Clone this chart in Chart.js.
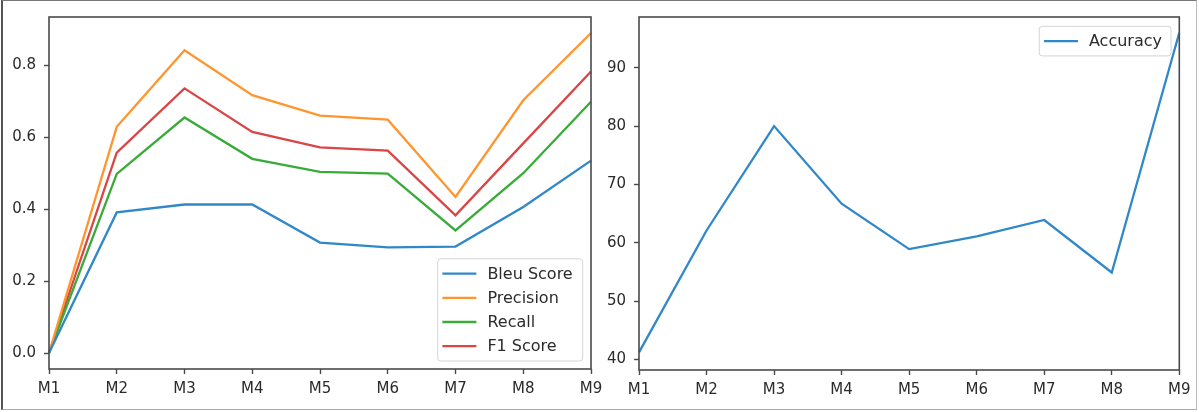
<!DOCTYPE html>
<html>
<head>
<meta charset="utf-8">
<script src="https://cdn.jsdelivr.net/npm/chart.js@4.4.1/dist/chart.umd.min.js"></script>
<style>
  html, body { margin: 0; padding: 0; background: #fff; }
  #page { position: relative; width: 1199px; height: 412px; overflow: hidden; background: #fff; }
  canvas { position: absolute; top: 0; }
  #left { left: 0; }
  #right { left: 605px; }
  #frame {
    position: absolute; left: 1px; top: 0; width: 1193px; height: 408px;
    border-left: 2px solid #555; border-top: 1px solid #777;
    border-right: 1px solid #bbb; border-bottom: 1px solid #aaa;
    pointer-events: none;
  }
</style>
</head>
<body>
<div id="page">
  <canvas id="left" width="625" height="412"></canvas>
  <canvas id="right" width="594" height="412"></canvas>
  <div id="frame"></div>
</div>
<script>
// Model labels along the x axis
const models = ['M1', 'M2', 'M3', 'M4', 'M5', 'M6', 'M7', 'M8', 'M9'];

// Text-generation metrics per model
const bleuScore = [0.0, 0.391, 0.413, 0.413, 0.307, 0.294, 0.296, 0.406, 0.535];
const precision = [0.0, 0.629, 0.842, 0.717, 0.660, 0.649, 0.434, 0.703, 0.890];
const recall    = [0.0, 0.498, 0.655, 0.540, 0.504, 0.499, 0.341, 0.500, 0.699];
const f1Score   = [0.0, 0.557, 0.736, 0.615, 0.572, 0.563, 0.383, 0.583, 0.783];

// Classification accuracy per model (%)
const accuracy = [41.2, 62.1, 80.0, 66.7, 58.9, 61.1, 63.9, 54.9, 96.0];

// Tick values for the two y axes
const metricTicks = [0.0, 0.2, 0.4, 0.6, 0.8];
const accuracyTicks = [40, 50, 60, 70, 80, 90];

const FONT = "'DejaVu Sans', sans-serif";
const TEXT = '#2b2b2b';
const AXIS = '#4a4a4a';
const COLORS = { blue: '#3088c8', orange: '#ff952e', green: '#38ab38', red: '#da4546' };

// Draws the boxed plot frame and a matplotlib-style legend inside the plot area
const frameLegend = {
  id: 'frameLegend',
  afterDraw(chart, args, opts) {
    const ctx = chart.ctx;
    const a = chart.chartArea;
    ctx.save();
    ctx.strokeStyle = AXIS;
    ctx.lineWidth = 1.6;
    ctx.strokeRect(a.left, a.top, a.right - a.left, a.bottom - a.top);

    const sets = chart.data.datasets;
    ctx.font = '16px ' + FONT;
    const textW = Math.max(...sets.map(d => ctx.measureText(d.label).width));
    const rowGap = 24.2, edge = 14.8;
    const w = 4.7 + 34 + 11 + textW + opts.padRight;
    const h = edge * 2 + (sets.length - 1) * rowGap;
    const x = a.right - 8.3 - w;
    const y = opts.corner === 'top' ? a.top + 9.3 : a.bottom - 8 - h;

    ctx.beginPath();
    ctx.roundRect(x, y, w, h, 3);
    ctx.fillStyle = 'rgba(255,255,255,0.85)';
    ctx.fill();
    ctx.strokeStyle = '#d4d4d4';
    ctx.lineWidth = 1;
    ctx.stroke();

    sets.forEach((d, i) => {
      const cy = y + edge + i * rowGap;
      ctx.beginPath();
      ctx.moveTo(x + 4.7, cy);
      ctx.lineTo(x + 38.7, cy);
      ctx.strokeStyle = d.borderColor;
      ctx.lineWidth = 2.3;
      ctx.stroke();
      ctx.fillStyle = TEXT;
      ctx.textBaseline = 'middle';
      ctx.textAlign = 'left';
      ctx.fillText(d.label, x + 49.7, cy + 1);
    });
    ctx.restore();
  }
};

function lineSet(label, data, color) {
  return {
    label, data,
    borderColor: color, backgroundColor: color,
    borderWidth: 2.3, pointRadius: 0, tension: 0, fill: false
  };
}

function scales(yMin, yMax, tickValues, fmt, yWidth) {
  const tickGrid = {
    display: true, drawOnChartArea: false, drawTicks: true,
    tickLength: 5, tickColor: AXIS, tickWidth: 1.4
  };
  return {
    x: {
      type: 'category', offset: false,
      grid: tickGrid, border: { display: false },
      ticks: { color: TEXT, font: { family: FONT, size: 15 }, padding: 6, maxRotation: 0, autoSkip: false },
      afterFit(s) { s.height = 30; }
    },
    y: {
      type: 'linear', min: yMin, max: yMax,
      grid: tickGrid, border: { display: false },
      ticks: { color: TEXT, font: { family: FONT, size: 15 }, padding: 8, callback: fmt },
      afterBuildTicks(s) { s.ticks = tickValues.map(v => ({ value: v })); },
      afterFit(s) { s.width = yWidth; }
    }
  };
}

function baseOptions(padding, sc, legendOpts) {
  return {
    responsive: false, animation: false, devicePixelRatio: 1,
    layout: { padding },
    scales: sc,
    plugins: { legend: { display: false }, tooltip: { enabled: false }, frameLegend: legendOpts }
  };
}

new Chart(document.getElementById('left'), {
  type: 'line',
  data: {
    labels: models,
    datasets: [
      lineSet('Bleu Score', bleuScore, COLORS.blue),
      lineSet('Precision', precision, COLORS.orange),
      lineSet('Recall', recall, COLORS.green),
      lineSet('F1 Score', f1Score, COLORS.red)
    ]
  },
  options: baseOptions(
    { left: 0, right: 34, top: 16, bottom: 13 },
    scales(-0.0445, 0.9345, metricTicks, v => Number(v).toFixed(1), 49),
    { corner: 'bottom', padRight: 10 }
  ),
  plugins: [frameLegend]
});

new Chart(document.getElementById('right'), {
  type: 'line',
  data: {
    labels: models,
    datasets: [lineSet('Accuracy', accuracy, COLORS.blue)]
  },
  options: baseOptions(
    { left: 0, right: 19.7, top: 16, bottom: 12 },
    scales(38.17, 98.71, accuracyTicks, v => String(v), 34),
    { corner: 'top', padRight: 9 }
  ),
  plugins: [frameLegend]
});
</script>
</body>
</html>
